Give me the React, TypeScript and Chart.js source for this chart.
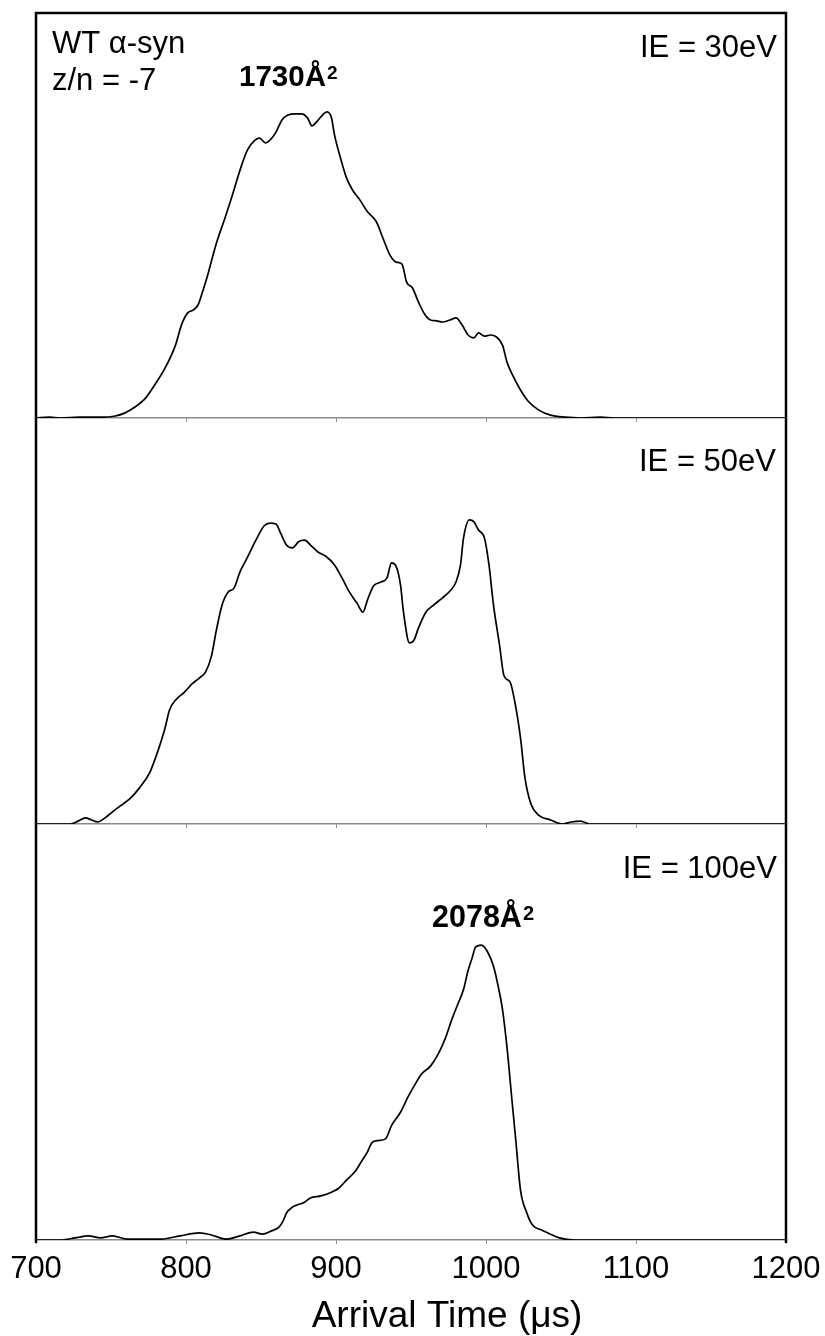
import React, { useEffect, useRef } from "react";
import { Chart, registerables } from "chart.js";

Chart.register(...registerables);

// ---------- data ----------
const xTickValues = [700, 800, 900, 1000, 1100, 1200];

// IE = 30 eV
const time30 = [700, 709, 716, 729, 743, 753, 759, 766, 773, 779, 786, 793, 797, 801, 805, 808, 811, 815, 818, 821, 826, 831, 836, 841, 846, 849, 853, 856, 860, 864, 868, 873, 877, 881, 884, 887, 891, 894, 897, 899, 903, 907, 911, 916, 921, 927, 931, 936, 940, 944, 947, 951, 955, 959, 963, 967, 971, 976, 980, 984, 988, 992, 995, 999, 1003, 1007, 1011, 1014, 1018, 1023, 1028, 1035, 1043, 1053, 1063, 1076, 1086, 1143, 1200];
const int30 = [0, 0.2, 0, 0.2, 0.2, 0.5, 1.2, 2.7, 4.9, 8.1, 12.3, 18.0, 23.0, 25.9, 26.7, 27.9, 31.1, 36.0, 40.2, 44.0, 49.4, 55.1, 61.2, 66.2, 68.6, 69.1, 67.9, 68.6, 70.6, 73.6, 74.8, 75.1, 75.1, 74.1, 72.1, 73.1, 74.8, 75.6, 74.1, 69.9, 64.2, 59.3, 56.3, 53.8, 50.9, 48.4, 44.7, 40.2, 38.5, 38.0, 33.6, 32.1, 28.6, 25.7, 24.2, 24.0, 23.7, 24.2, 24.7, 23.0, 20.5, 19.8, 21.0, 20.2, 20.5, 20.0, 18.0, 13.8, 10.4, 6.9, 4.2, 2.0, 0.7, 0.2, 0, 0.2, 0, 0, 0];

// IE = 50 eV
const time50 = [700, 723, 728, 733, 737, 741, 746, 751, 756, 763, 769, 776, 781, 786, 789, 793, 799, 804, 809, 813, 817, 820, 824, 828, 832, 836, 840, 844, 848, 852, 856, 860, 863, 867, 871, 875, 879, 883, 888, 893, 899, 904, 909, 914, 918, 921, 925, 930, 934, 937, 940, 943, 945, 949, 952, 955, 960, 965, 971, 976, 980, 983, 985, 989, 992, 995, 999, 1002, 1005, 1009, 1012, 1016, 1019, 1023, 1026, 1030, 1035, 1043, 1051, 1057, 1063, 1069, 1200];
const int50 = [0, 0, 0.7, 1.5, 1.0, 0.5, 1.5, 3.0, 4.4, 6.4, 8.9, 12.8, 17.7, 23.6, 28.1, 30.5, 32.5, 34.5, 36.0, 37.4, 41.4, 47.3, 53.9, 57.1, 58.1, 62.1, 65.0, 68.0, 70.9, 73.4, 74.1, 73.9, 71.7, 68.7, 68.0, 69.5, 69.9, 68.7, 67.0, 66.0, 63.8, 60.6, 57.1, 54.4, 52.2, 55.2, 58.6, 59.6, 60.6, 64.3, 63.5, 58.9, 52.2, 44.6, 45.3, 48.3, 52.2, 53.9, 55.7, 57.4, 59.6, 63.8, 70.4, 74.9, 74.4, 72.4, 70.4, 63.8, 53.9, 44.1, 36.5, 35.0, 30.5, 21.2, 11.3, 4.9, 2.2, 1.0, 0, 0.5, 0.7, 0, 0];

// IE = 100 eV
const time100 = [700, 716, 726, 735, 743, 751, 761, 783, 796, 809, 817, 827, 836, 845, 851, 857, 862, 865, 867, 871, 874, 879, 883, 890, 897, 902, 907, 913, 917, 921, 924, 928, 933, 937, 943, 948, 953, 957, 963, 968, 973, 977, 981, 985, 988, 991, 993, 997, 1001, 1005, 1008, 1011, 1014, 1017, 1020, 1023, 1027, 1031, 1037, 1043, 1049, 1059, 1200];
const int100 = [0, 0, 0.5, 1.0, 0.5, 1.0, 0.2, 0.2, 1.0, 1.7, 1.2, 0.2, 1.0, 1.9, 1.4, 2.2, 3.1, 4.8, 6.5, 7.9, 8.4, 9.1, 10.1, 10.6, 11.5, 12.5, 14.4, 16.6, 18.9, 21.2, 23.4, 23.9, 24.3, 27.5, 30.7, 34.4, 37.6, 39.9, 41.8, 44.6, 48.6, 52.8, 56.5, 60.2, 64.7, 68.1, 70.4, 70.9, 69.3, 65.8, 61.2, 55.4, 46.3, 34.8, 23.4, 12.0, 6.7, 3.6, 2.4, 1.4, 0.5, 0, 0];

const FONT = '"Liberation Sans", Arial, Helvetica, sans-serif';

type Label = {
  text: string;
  x: number;
  y: number;
  size: number;
  bold?: boolean;
  align?: CanvasTextAlign;
  sup?: string;
};

type PanelProps = {
  top: number;
  height: number;
  plotTop: number;
  plotBottom: number;
  times: number[];
  values: number[];
  labels: Label[];
  showTickLabels: boolean;
  frameTop: boolean;
};

function Panel(props: PanelProps) {
  const ref = useRef<HTMLCanvasElement | null>(null);
  useEffect(() => {
    const canvas = ref.current;
    if (!canvas) return;
    const { top, height, plotTop, plotBottom, times, values, labels, showTickLabels, frameTop } = props;

    const textPlugin = {
      id: "panelDecor",
      afterDraw(chart: any) {
        const ctx = chart.ctx as CanvasRenderingContext2D;
        const a = chart.chartArea;
        ctx.save();
        ctx.strokeStyle = "#000";
        ctx.lineWidth = 2.5;
        ctx.beginPath();
        ctx.moveTo(a.left, a.top - (frameTop ? 1.25 : 0));
        ctx.lineTo(a.left, a.bottom + (showTickLabels ? 3 : 0));
        ctx.moveTo(a.right, a.top - (frameTop ? 1.25 : 0));
        ctx.lineTo(a.right, a.bottom + (showTickLabels ? 3 : 0));
        if (frameTop) {
          ctx.moveTo(a.left - 1.25, a.top);
          ctx.lineTo(a.right + 1.25, a.top);
        }
        ctx.stroke();
        ctx.fillStyle = "#000";
        ctx.textBaseline = "alphabetic";
        for (const l of labels) {
          ctx.font = `${l.bold ? "bold " : ""}${l.size}px ${FONT}`;
          ctx.textAlign = l.align || "left";
          const y = l.y - top;
          ctx.fillText(l.text, l.x, y);
          if (l.sup) {
            const w = ctx.measureText(l.text).width;
            ctx.font = `${l.bold ? "bold " : ""}${Math.round(l.size * 0.66)}px ${FONT}`;
            ctx.textAlign = "left";
            ctx.fillText(l.sup, l.x + w + 1, y - 7);
          }
        }
        ctx.restore();
      },
    };

    const chart = new Chart(canvas, {
      type: "line",
      data: {
        datasets: [
          {
            data: times.map((t, i) => ({ x: t, y: values[i] })),
            borderColor: "#000",
            borderWidth: 1.7,
            pointRadius: 0,
            fill: false,
            cubicInterpolationMode: "monotone",
          },
        ],
      },
      options: {
        responsive: false,
        animation: false,
        devicePixelRatio: 1,
        layout: { padding: { top: plotTop - top, left: 36, right: 39, bottom: 0 } },
        plugins: { legend: { display: false }, tooltip: { enabled: false }, title: { display: false } },
        scales: {
          x: {
            type: "linear",
            min: 700,
            max: 1200,
            afterBuildTicks: (scale: any) => {
              scale.ticks = xTickValues.map((v) => ({ value: v }));
            },
            afterFit: (scale: any) => {
              scale.height = height - (plotBottom - top);
              scale.paddingLeft = 0;
              scale.paddingRight = 0;
            },
            ticks: {
              display: showTickLabels,
              color: "#000",
              font: { family: FONT, size: 31 },
              padding: 7,
              maxRotation: 0,
              autoSkip: false,
              callback: (v: any) => String(v),
            },
            grid: {
              display: true,
              drawOnChartArea: false,
              drawTicks: true,
              tickLength: 4,
              color: "#8a8a8a",
              lineWidth: 1,
            },
            border: { display: true, color: "#8a8a8a", width: 1.5 },
          },
          y: {
            display: false,
            min: 0,
            max: 100,
          },
        },
      },
      plugins: [textPlugin],
    } as any);
    return () => chart.destroy();
  }, []);

  return (
    <canvas
      ref={ref}
      width={825}
      height={props.height}
      style={{ position: "absolute", left: 0, top: props.top, width: 825, height: props.height, display: "block" }}
    />
  );
}

export default function App() {
  return (
    <div style={{ position: "absolute", left: 0, top: 0, width: 825, height: 1336, background: "#fff" }}>
      <Panel
        top={0}
        height={424}
        plotTop={13}
        plotBottom={418}
        times={time30}
        values={int30}
        showTickLabels={false}
        frameTop={true}
        labels={[
          { text: "WT α-syn", x: 52, y: 53, size: 31 },
          { text: "z/n = -7", x: 52, y: 90, size: 31 },
          { text: "1730Å", x: 239, y: 86, size: 29.5, bold: true, sup: "2" },
          { text: "IE = 30eV", x: 777, y: 57, size: 31, align: "right" },
        ]}
      />
      <Panel
        top={418}
        height={412}
        plotTop={418}
        plotBottom={824}
        times={time50}
        values={int50}
        showTickLabels={false}
        frameTop={false}
        labels={[{ text: "IE = 50eV", x: 776, y: 471, size: 31, align: "right" }]}
      />
      <Panel
        top={824}
        height={512}
        plotTop={824}
        plotBottom={1240}
        times={time100}
        values={int100}
        showTickLabels={true}
        frameTop={false}
        labels={[
          { text: "IE = 100eV", x: 777, y: 878, size: 31, align: "right" },
          { text: "2078Å", x: 432, y: 927, size: 30.5, bold: true, sup: "2" },
          { text: "Arrival Time (μs)", x: 447, y: 1327, size: 37, align: "center" },
        ]}
      />
    </div>
  );
}
